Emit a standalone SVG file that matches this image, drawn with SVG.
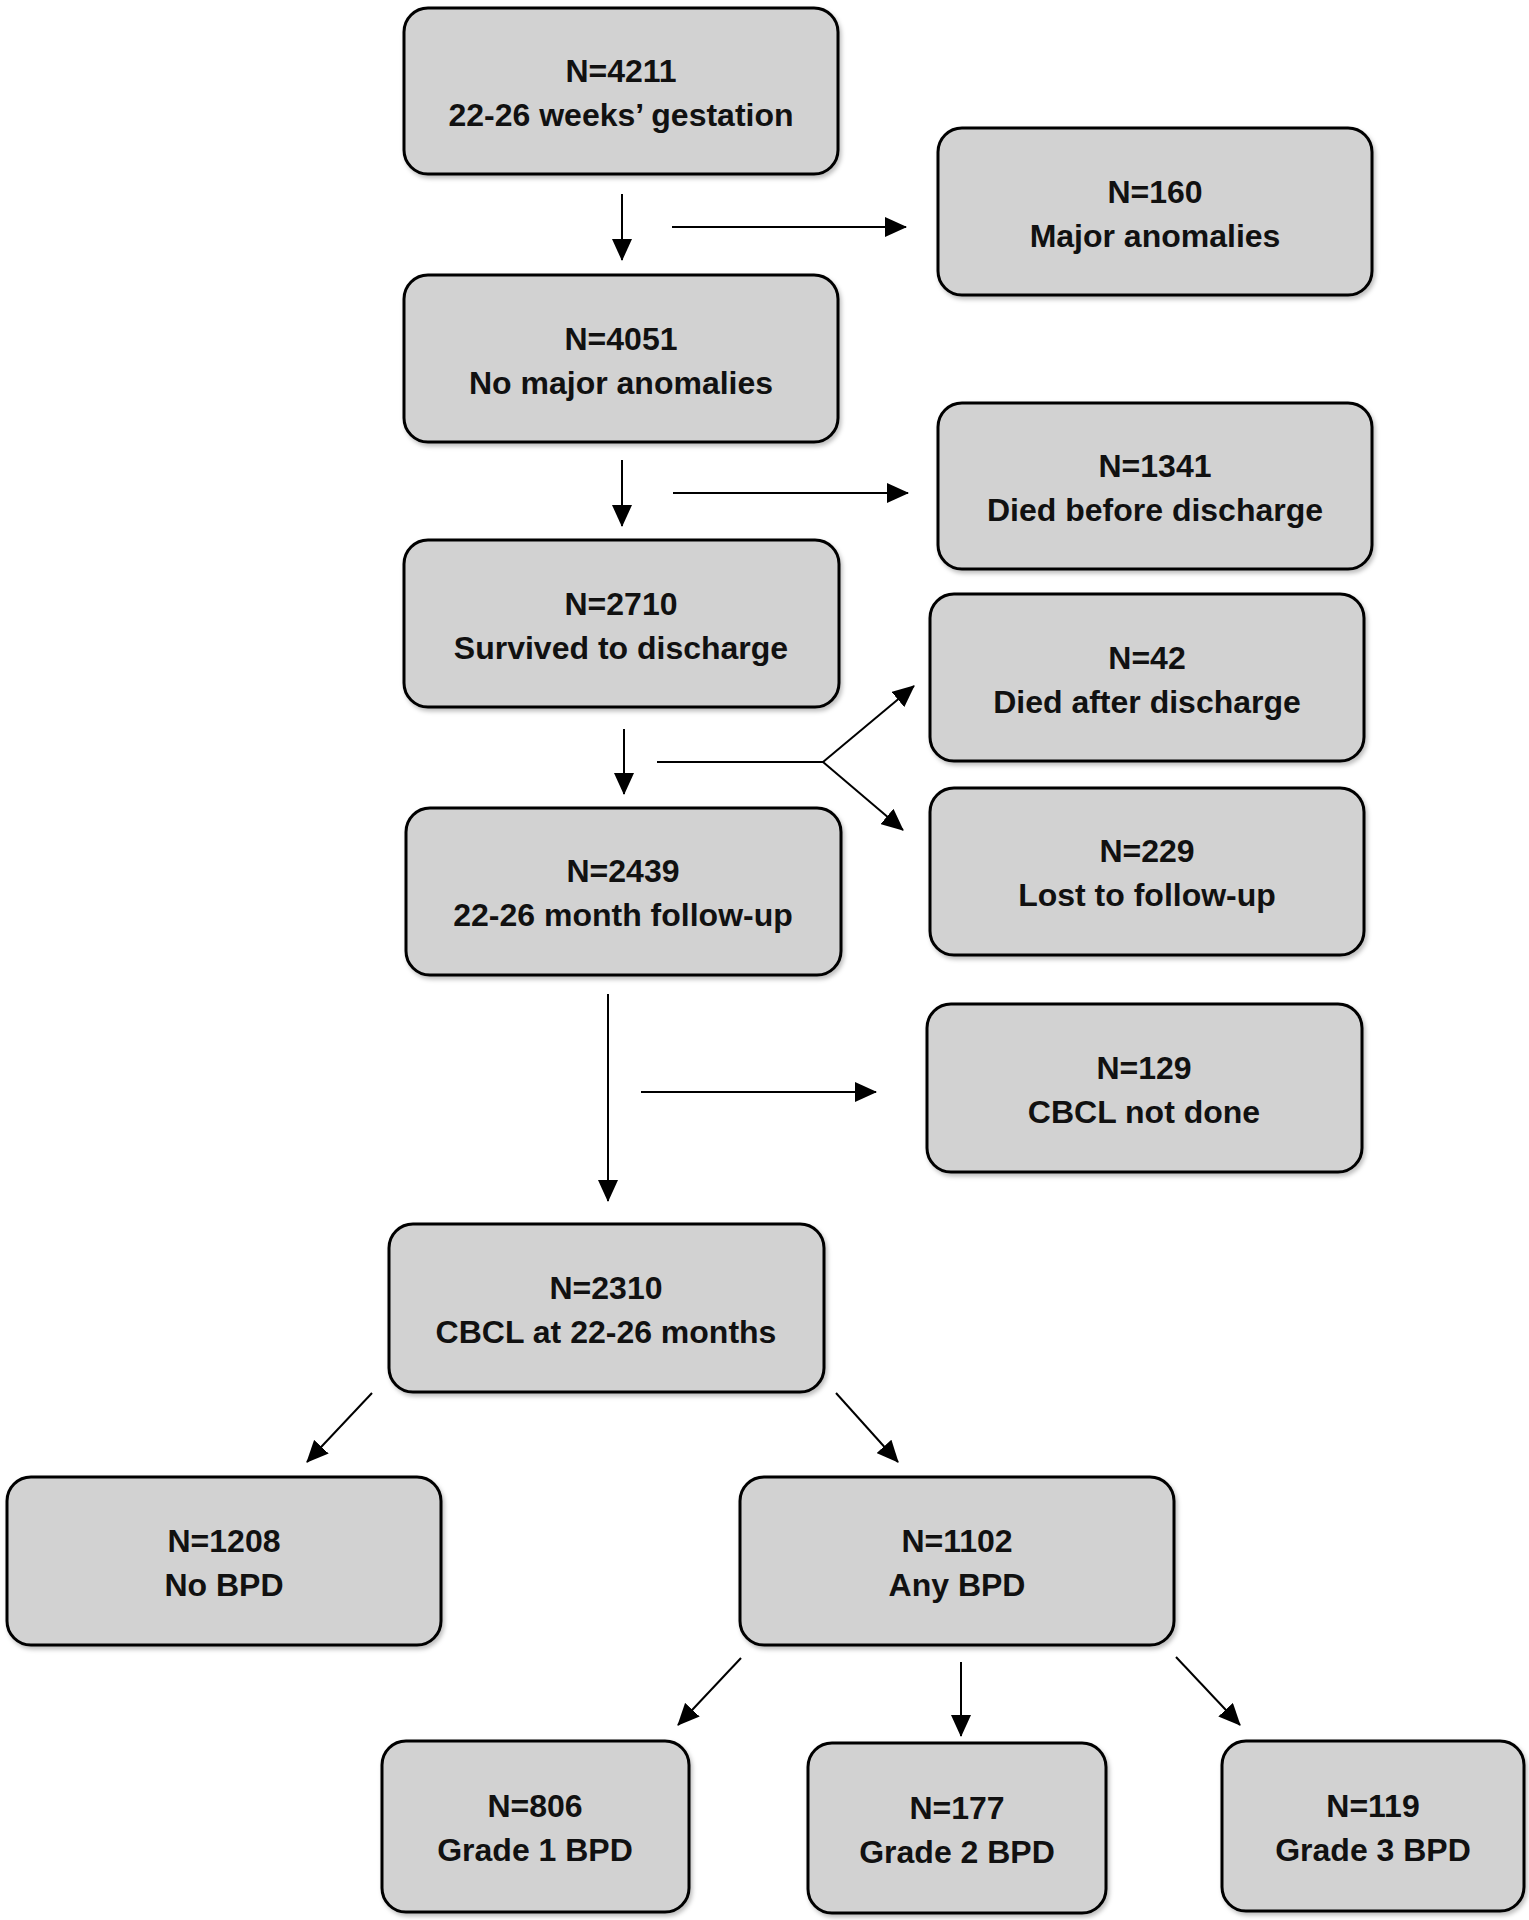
<svg xmlns="http://www.w3.org/2000/svg" width="1529" height="1920" viewBox="0 0 1529 1920">
<style>
.box{fill:#d2d2d2;stroke:#000;stroke-width:3}
.t{font-family:"Liberation Sans",Arial,sans-serif;font-weight:bold;font-size:32px;fill:#111;text-anchor:middle}
.c{stroke:#000;stroke-width:2;fill:none}
.a{marker-end:url(#ah)}
</style>
<defs>
<marker id="ah" markerUnits="userSpaceOnUse" markerWidth="22" markerHeight="20" refX="21" refY="10" orient="auto">
<path d="M0,0 L22,10 L0,20 z" fill="#000"/>
</marker>
<filter id="sh" x="-5%" y="-5%" width="112%" height="115%">
<feDropShadow dx="2" dy="3" stdDeviation="2" flood-color="#000" flood-opacity="0.25"/>
</filter>
</defs>
<rect width="1529" height="1920" fill="#fff"/>
<g id="connectors">
<line class="c a" x1="622" y1="194" x2="622" y2="260"/>
<line class="c a" x1="672" y1="227" x2="906" y2="227"/>
<line class="c a" x1="622" y1="460" x2="622" y2="526"/>
<line class="c a" x1="673" y1="493" x2="908" y2="493"/>
<line class="c a" x1="624" y1="729" x2="624" y2="794"/>
<line class="c" x1="657" y1="762" x2="823" y2="762"/>
<line class="c a" x1="823" y1="762" x2="914" y2="686"/>
<line class="c a" x1="823" y1="762" x2="903" y2="830"/>
<line class="c a" x1="608" y1="994" x2="608" y2="1201"/>
<line class="c a" x1="641" y1="1092" x2="876" y2="1092"/>
<line class="c a" x1="372" y1="1393" x2="307" y2="1462"/>
<line class="c a" x1="836" y1="1393" x2="898" y2="1462"/>
<line class="c a" x1="741" y1="1658" x2="678" y2="1725"/>
<line class="c a" x1="961" y1="1662" x2="961" y2="1736"/>
<line class="c a" x1="1176" y1="1657" x2="1240" y2="1725"/>
</g>
<g id="n4211"><rect class="box" filter="url(#sh)" x="404" y="8" width="434" height="166" rx="24"/><text class="t" x="621" y="82">N=4211</text><text class="t" x="621" y="126">22-26 weeks’ gestation</text></g>
<g id="n160"><rect class="box" filter="url(#sh)" x="938" y="128" width="434" height="167" rx="24"/><text class="t" x="1155" y="203">N=160</text><text class="t" x="1155" y="247">Major anomalies</text></g>
<g id="n4051"><rect class="box" filter="url(#sh)" x="404" y="275" width="434" height="167" rx="24"/><text class="t" x="621" y="350">N=4051</text><text class="t" x="621" y="394">No major anomalies</text></g>
<g id="n1341"><rect class="box" filter="url(#sh)" x="938" y="403" width="434" height="166" rx="24"/><text class="t" x="1155" y="477">N=1341</text><text class="t" x="1155" y="521">Died before discharge</text></g>
<g id="n2710"><rect class="box" filter="url(#sh)" x="404" y="540" width="435" height="167" rx="24"/><text class="t" x="621" y="615">N=2710</text><text class="t" x="621" y="659">Survived to discharge</text></g>
<g id="n42"><rect class="box" filter="url(#sh)" x="930" y="594" width="434" height="167" rx="24"/><text class="t" x="1147" y="669">N=42</text><text class="t" x="1147" y="713">Died after discharge</text></g>
<g id="n229"><rect class="box" filter="url(#sh)" x="930" y="788" width="434" height="167" rx="24"/><text class="t" x="1147" y="862">N=229</text><text class="t" x="1147" y="906">Lost to follow-up</text></g>
<g id="n2439"><rect class="box" filter="url(#sh)" x="406" y="808" width="435" height="167" rx="24"/><text class="t" x="623" y="882">N=2439</text><text class="t" x="623" y="926">22-26 month follow-up</text></g>
<g id="n129"><rect class="box" filter="url(#sh)" x="927" y="1004" width="435" height="168" rx="24"/><text class="t" x="1144" y="1079">N=129</text><text class="t" x="1144" y="1123">CBCL not done</text></g>
<g id="n2310"><rect class="box" filter="url(#sh)" x="389" y="1224" width="435" height="168" rx="24"/><text class="t" x="606" y="1299">N=2310</text><text class="t" x="606" y="1343">CBCL at 22-26 months</text></g>
<g id="n1208"><rect class="box" filter="url(#sh)" x="7" y="1477" width="434" height="168" rx="24"/><text class="t" x="224" y="1552">N=1208</text><text class="t" x="224" y="1596">No BPD</text></g>
<g id="n1102"><rect class="box" filter="url(#sh)" x="740" y="1477" width="434" height="168" rx="24"/><text class="t" x="957" y="1552">N=1102</text><text class="t" x="957" y="1596">Any BPD</text></g>
<g id="n806"><rect class="box" filter="url(#sh)" x="382" y="1741" width="307" height="171" rx="24"/><text class="t" x="535" y="1817">N=806</text><text class="t" x="535" y="1861">Grade 1 BPD</text></g>
<g id="n177"><rect class="box" filter="url(#sh)" x="808" y="1743" width="298" height="170" rx="24"/><text class="t" x="957" y="1819">N=177</text><text class="t" x="957" y="1863">Grade 2 BPD</text></g>
<g id="n119"><rect class="box" filter="url(#sh)" x="1222" y="1741" width="302" height="170" rx="24"/><text class="t" x="1373" y="1817">N=119</text><text class="t" x="1373" y="1861">Grade 3 BPD</text></g>
</svg>
